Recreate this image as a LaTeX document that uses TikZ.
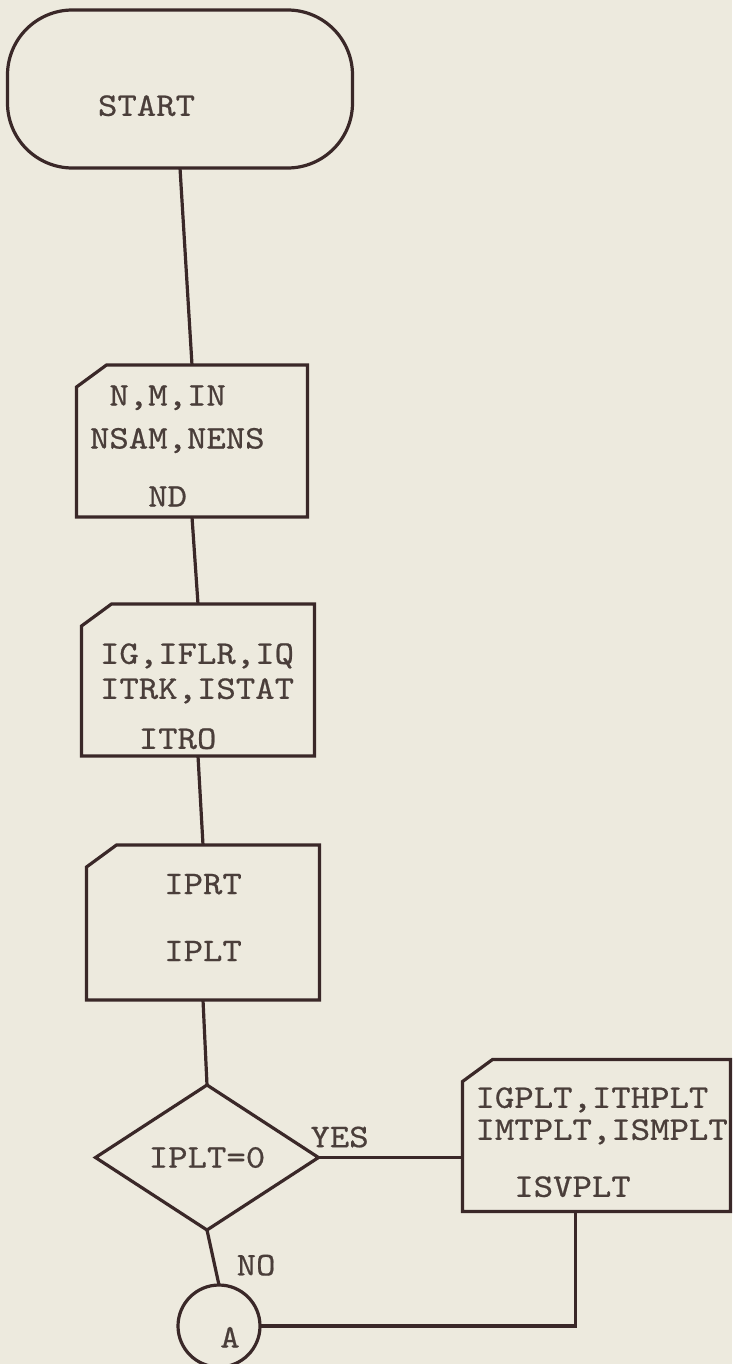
\documentclass[tikz,border=0pt]{standalone}
\usepackage{fontspec}
\setmonofont{lmmono10-regular.otf}[FakeStretch=1.12,FakeBold=0.6]
\usepackage{xcolor}
\usepackage{tikz}
\usetikzlibrary{positioning,shapes.geometric}
\definecolor{Paper}{HTML}{EDEADE}
\definecolor{Ink}{HTML}{3A2828}
\definecolor{Type}{HTML}{4A3E3A}

\begin{document}
\begin{tikzpicture}[x=1pt, y=1pt, line width=3.2pt,
  every node/.style={font=\ttfamily\fontsize{33}{39}\selectfont, text=Type, outer sep=0pt},
  card/.style={rectangle, inner sep=0pt, align=left,
    append after command={\pgfextra{\draw[Ink] (\tikzlastnode.south west) -- ([yshift=-22pt]\tikzlastnode.north west) -- ([xshift=30pt]\tikzlastnode.north west) -- (\tikzlastnode.north east) -- (\tikzlastnode.south east) -- cycle;}}}]
  \path[use as bounding box, fill=Paper] (0,0) rectangle (732,-1364);
  \node[draw=Ink,rounded corners=65pt,minimum width=345pt,minimum height=158pt,inner sep=0pt] (start) at (180,-89) {\rule{0pt}{54pt}START\hspace*{67pt}};
  \node[card,below=197pt of start,xshift=12pt,minimum width=231pt,minimum height=152pt,text width=204pt] (rd1) {\rule{0pt}{30pt}\hspace*{19.4pt}N,M,IN\\[4pt]NSAM,NENS\\[19pt]\hspace*{58.2pt}ND};
  \node[card,below=87pt of rd1,xshift=6pt,minimum width=233pt,minimum height=152pt,text width=196pt] (rd2) {\rule{0pt}{53pt}IG,IFLR,IQ\\[-4pt]ITRK,ISTAT\\[11pt]\hspace*{38.8pt}ITRO};
  \node[card,below=89pt of rd2,xshift=5pt,minimum width=233pt,minimum height=155pt,align=center] (rd3) {IPRT\\[28pt]IPLT\rule[-10pt]{0pt}{10pt}};
  \node[draw=Ink,diamond,aspect=1.5,below=85pt of rd3,xshift=4pt,minimum width=223pt,minimum height=145pt,inner sep=0pt] (dec) {IPLT=0};
  \node[card,right=144pt of dec,yshift=22pt,minimum width=268pt,minimum height=152pt,text width=242pt] (rd4) {\rule{0pt}{34pt}IGPLT,ITHPLT\\[-7pt]IMTPLT,ISMPLT\\[18pt]\hspace*{38.8pt}ISVPLT};
  \node[draw=Ink,circle,below=55pt of dec,xshift=12pt,minimum size=82pt,inner sep=0pt] (ina) {\rule{0pt}{43pt}\hspace*{22pt}A};
  \draw[Ink] (start.south) -- (rd1.north);
  \draw[Ink] (rd1.south) -- (rd2.north);
  \draw[Ink] (rd2.south) -- (rd3.north);
  \draw[Ink] (rd3.south) -- (dec.north);
  \draw[Ink] (dec.east) -- (dec.east -| rd4.west) node[pos=0,anchor=south west,inner sep=0pt,xshift=-8pt,yshift=10pt] {YES};
  \draw[Ink] (dec.south) -- (ina.north) node[pos=0.64,anchor=west,inner sep=0pt,xshift=22pt] {NO};
  \draw[Ink] (ina.east) -| ([xshift=-21pt]rd4.south);
\end{tikzpicture}
\end{document}
